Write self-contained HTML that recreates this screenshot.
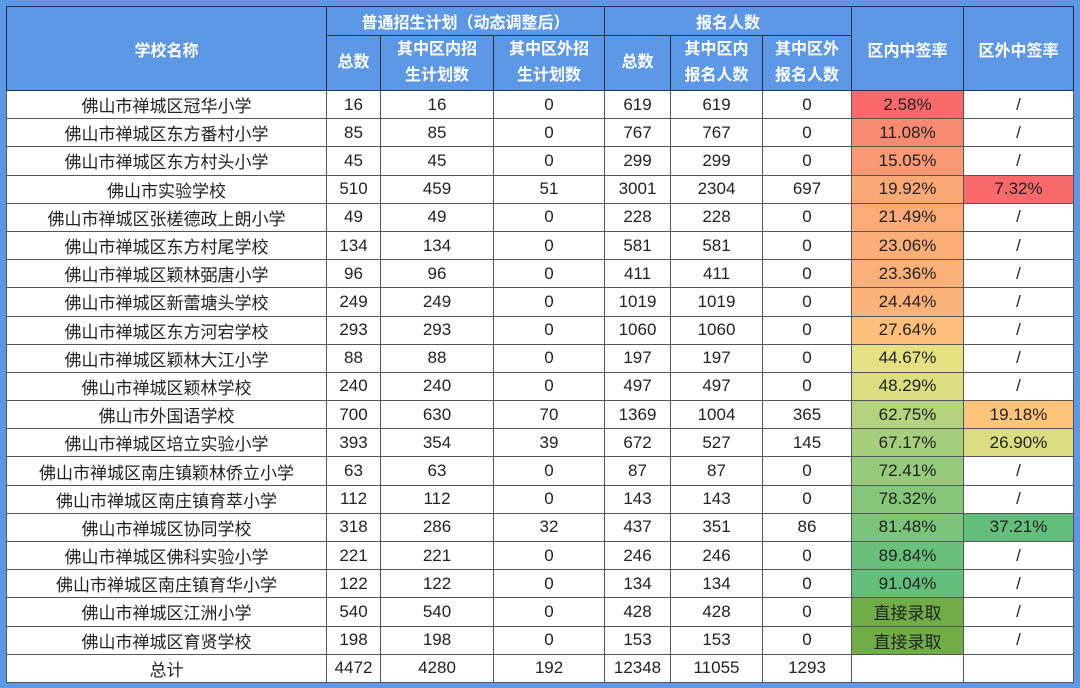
<!DOCTYPE html>
<html><head><meta charset="utf-8"><style>
body{margin:0;width:1080px;height:688px;background:#5d98e6;overflow:hidden;font-family:"Liberation Sans","Noto Sans CJK SC",sans-serif}
table{position:absolute;left:6px;top:6px;border-collapse:collapse;table-layout:fixed;width:1067px}
td{border:1px solid #555;text-align:center;font-size:17px;color:#222;padding:0;height:27.2px;background:#fff;white-space:nowrap;overflow:hidden}
tr.h td{background:#5d98e6;color:#fff;font-weight:bold;font-size:16px;border-color:#234}
tr.h1 td{height:28px}
tr.h2 td{height:54px;line-height:26px}
</style></head><body>
<table>
<colgroup><col style="width:320px"><col style="width:54px"><col style="width:113px"><col style="width:111px"><col style="width:66px"><col style="width:92px"><col style="width:89px"><col style="width:112px"><col style="width:110px"></colgroup>
<tr class="h h1"><td rowspan="2">学校名称</td><td colspan="3">普通招生计划（动态调整后）</td><td colspan="3">报名人数</td><td rowspan="2">区内中签率</td><td rowspan="2">区外中签率</td></tr>
<tr class="h h2"><td>总数</td><td>其中区内招<br>生计划数</td><td>其中区外招<br>生计划数</td><td>总数</td><td>其中区内<br>报名人数</td><td>其中区外<br>报名人数</td></tr>
<tr><td>佛山市禅城区冠华小学</td><td>16</td><td>16</td><td>0</td><td>619</td><td>619</td><td>0</td><td style="background:#f8696b">2.58%</td><td>/</td></tr>
<tr><td>佛山市禅城区东方番村小学</td><td>85</td><td>85</td><td>0</td><td>767</td><td>767</td><td>0</td><td style="background:#f98a72">11.08%</td><td>/</td></tr>
<tr><td>佛山市禅城区东方村头小学</td><td>45</td><td>45</td><td>0</td><td>299</td><td>299</td><td>0</td><td style="background:#fa9975">15.05%</td><td>/</td></tr>
<tr><td>佛山市实验学校</td><td>510</td><td>459</td><td>51</td><td>3001</td><td>2304</td><td>697</td><td style="background:#fba877">19.92%</td><td style="background:#f8696b">7.32%</td></tr>
<tr><td>佛山市禅城区张槎德政上朗小学</td><td>49</td><td>49</td><td>0</td><td>228</td><td>228</td><td>0</td><td style="background:#fbab78">21.49%</td><td>/</td></tr>
<tr><td>佛山市禅城区东方村尾学校</td><td>134</td><td>134</td><td>0</td><td>581</td><td>581</td><td>0</td><td style="background:#fbae78">23.06%</td><td>/</td></tr>
<tr><td>佛山市禅城区颖林弼唐小学</td><td>96</td><td>96</td><td>0</td><td>411</td><td>411</td><td>0</td><td style="background:#fbb079">23.36%</td><td>/</td></tr>
<tr><td>佛山市禅城区新蕾塘头学校</td><td>249</td><td>249</td><td>0</td><td>1019</td><td>1019</td><td>0</td><td style="background:#fcb37a">24.44%</td><td>/</td></tr>
<tr><td>佛山市禅城区东方河宕学校</td><td>293</td><td>293</td><td>0</td><td>1060</td><td>1060</td><td>0</td><td style="background:#fdbf7b">27.64%</td><td>/</td></tr>
<tr><td>佛山市禅城区颖林大江小学</td><td>88</td><td>88</td><td>0</td><td>197</td><td>197</td><td>0</td><td style="background:#e5e082">44.67%</td><td>/</td></tr>
<tr><td>佛山市禅城区颖林学校</td><td>240</td><td>240</td><td>0</td><td>497</td><td>497</td><td>0</td><td style="background:#dbdd81">48.29%</td><td>/</td></tr>
<tr><td>佛山市外国语学校</td><td>700</td><td>630</td><td>70</td><td>1369</td><td>1004</td><td>365</td><td style="background:#b4d37e">62.75%</td><td style="background:#fdc57c">19.18%</td></tr>
<tr><td>佛山市禅城区培立实验小学</td><td>393</td><td>354</td><td>39</td><td>672</td><td>527</td><td>145</td><td style="background:#a6cf7d">67.17%</td><td style="background:#dbdd81">26.90%</td></tr>
<tr><td>佛山市禅城区南庄镇颖林侨立小学</td><td>63</td><td>63</td><td>0</td><td>87</td><td>87</td><td>0</td><td style="background:#97cb7c">72.41%</td><td>/</td></tr>
<tr><td>佛山市禅城区南庄镇育萃小学</td><td>112</td><td>112</td><td>0</td><td>143</td><td>143</td><td>0</td><td style="background:#85c67b">78.32%</td><td>/</td></tr>
<tr><td>佛山市禅城区协同学校</td><td>318</td><td>286</td><td>32</td><td>437</td><td>351</td><td>86</td><td style="background:#7cc47b">81.48%</td><td style="background:#63be7b">37.21%</td></tr>
<tr><td>佛山市禅城区佛科实验小学</td><td>221</td><td>221</td><td>0</td><td>246</td><td>246</td><td>0</td><td style="background:#69c07b">89.84%</td><td>/</td></tr>
<tr><td>佛山市禅城区南庄镇育华小学</td><td>122</td><td>122</td><td>0</td><td>134</td><td>134</td><td>0</td><td style="background:#63be7b">91.04%</td><td>/</td></tr>
<tr><td>佛山市禅城区江洲小学</td><td>540</td><td>540</td><td>0</td><td>428</td><td>428</td><td>0</td><td style="background:#70ad47">直接录取</td><td>/</td></tr>
<tr><td>佛山市禅城区育贤学校</td><td>198</td><td>198</td><td>0</td><td>153</td><td>153</td><td>0</td><td style="background:#70ad47">直接录取</td><td>/</td></tr>
<tr><td>总计</td><td>4472</td><td>4280</td><td>192</td><td>12348</td><td>11055</td><td>1293</td><td></td><td></td></tr>
</table>
</body></html>
